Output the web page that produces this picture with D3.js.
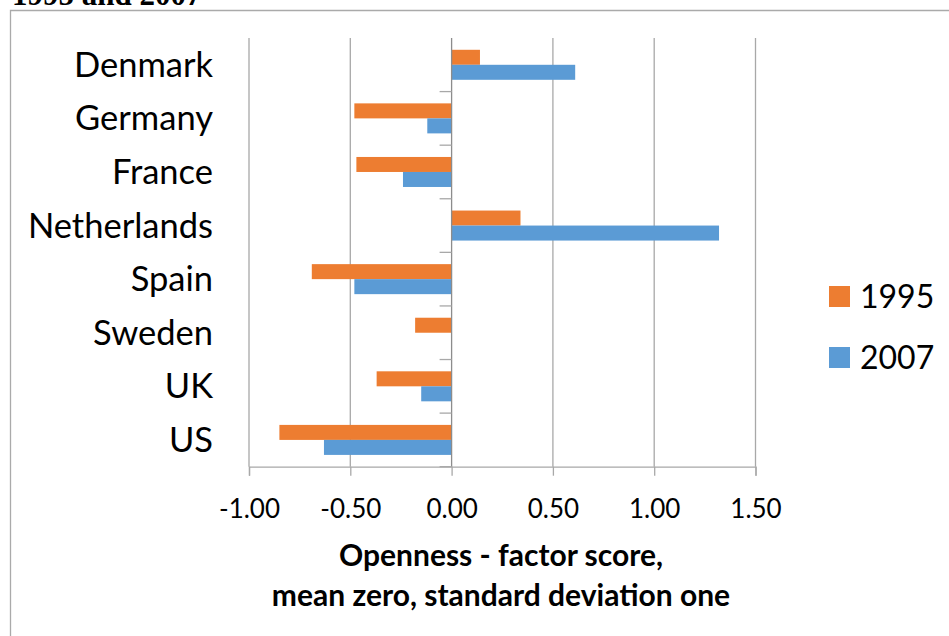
<!DOCTYPE html>
<html>
<head>
<meta charset="utf-8">
<script src="https://cdn.jsdelivr.net/npm/d3@7"></script>
<style>
  html, body { margin: 0; padding: 0; background: #fff; }
  svg { display: block; }
  text { font-family: Lato, "Open Sans", sans-serif; fill: #000; }
</style>
</head>
<body>
<svg id="chart" width="949" height="636"></svg>
<script>
// Openness factor scores by country, 1995 and 2007
const countries = ["Denmark", "Germany", "France", "Netherlands", "Spain", "Sweden", "UK", "US"];
const years = ["1995", "2007"];
const values1995 = [0.14, -0.48, -0.47, 0.34, -0.69, -0.18, -0.37, -0.85];
const values2007 = [0.61, -0.12, -0.24, 1.32, -0.48, null, -0.15, -0.63];
const xTicks = [-1.0, -0.5, 0.0, 0.5, 1.0, 1.5];
const colors = ["#ED7D31", "#5B9BD5"];
const axisTitle = ["Openness - factor score,", "mean zero, standard deviation one"];

const rows = countries.map((c, i) => ({
  country: c,
  vals: [
    { year: years[0], v: values1995[i] },
    { year: years[1], v: values2007[i] }
  ]
}));

const svg = d3.select("#chart");

// caption line above the frame (only its lower edge shows)
svg.append("text")
  .attr("x", 12).attr("y", 5)
  .style("font-family", "'Liberation Serif', 'DejaVu Serif', serif")
  .style("font-weight", "bold")
  .style("font-size", "31px")
  .text("1995 and 2007");

// chart frame
svg.append("path")
  .attr("d", "M10.5,640 V10.5 H960")
  .attr("fill", "none")
  .attr("stroke", "#aaaaaa")
  .attr("stroke-width", 1.3);

const x = d3.scaleLinear().domain([-1, 1.5]).range([249, 755.5]);
const y = d3.scaleBand().domain(countries).range([38, 466.7])
  .paddingInner(0.44).paddingOuter(0.22);
const yInner = d3.scaleBand().domain(years).range([0, y.bandwidth()]);
const color = d3.scaleOrdinal().domain(years).range(colors);

const plotTop = 38, plotBottom = 466.7;

// vertical gridlines
svg.append("g")
  .selectAll("line")
  .data(xTicks.filter(t => t !== 0))
  .join("line")
  .attr("x1", d => x(d)).attr("x2", d => x(d))
  .attr("y1", plotTop).attr("y2", plotBottom)
  .attr("stroke", "#a8a8a8")
  .attr("stroke-width", 1.3);

// bars
const groups = svg.append("g")
  .selectAll("g")
  .data(rows)
  .join("g")
  .attr("transform", d => `translate(0,${y(d.country)})`);

groups.selectAll("rect")
  .data(d => d.vals.filter(e => e.v !== null))
  .join("rect")
  .attr("x", d => x(Math.min(0, d.v)))
  .attr("width", d => Math.abs(x(d.v) - x(0)))
  .attr("y", d => yInner(d.year))
  .attr("height", yInner.bandwidth())
  .attr("fill", d => color(d.year));

// value axis along the bottom
const fmt = d3.format(".2f");
const xAxis = svg.append("g")
  .attr("transform", `translate(0,${plotBottom})`)
  .call(d3.axisBottom(x).tickValues(xTicks).tickSize(9)
    .tickFormat(d => fmt(d).replace("\u2212", "-")));
xAxis.select(".domain").attr("stroke", "#a8a8a8").attr("stroke-width", 1.3);
xAxis.selectAll(".tick line").attr("stroke", "#a8a8a8").attr("stroke-width", 1.3);
xAxis.selectAll(".tick text")
  .attr("dy", null)
  .attr("y", 51)
  .style("font-family", "Lato, 'Open Sans', sans-serif")
  .style("font-size", "26px");

// category axis at zero, tick marks between categories
const boundaries = countries.map(c => y(c) - y.step() * y.paddingInner() / 2).concat([plotBottom]);
const catAxis = svg.append("g");
catAxis.append("line")
  .attr("x1", x(0)).attr("x2", x(0))
  .attr("y1", plotTop).attr("y2", plotBottom)
  .attr("stroke", "#8c8c8c").attr("stroke-width", 1.3);
catAxis.selectAll("line.tick")
  .data(boundaries.slice(1))
  .join("line")
  .attr("class", "tick")
  .attr("x1", x(0) - 12).attr("x2", x(0))
  .attr("y1", d => d).attr("y2", d => d)
  .attr("stroke", "#a8a8a8").attr("stroke-width", 1.3);

// category labels
svg.append("g")
  .selectAll("text")
  .data(countries)
  .join("text")
  .attr("x", 213)
  .attr("y", d => y(d) + y.bandwidth() / 2 + 12)
  .attr("text-anchor", "end")
  .style("font-size", "34.5px")
  .text(d => d);

// axis title
svg.append("g")
  .selectAll("text")
  .data(axisTitle)
  .join("text")
  .attr("x", 501)
  .attr("y", (d, i) => 566 + i * 40)
  .attr("text-anchor", "middle")
  .style("font-weight", "bold")
  .style("font-size", "30px")
  .text(d => d);

// legend
const legend = svg.append("g")
  .selectAll("g")
  .data(years)
  .join("g")
  .attr("transform", (d, i) => `translate(829,${286 + i * 61})`);
legend.append("rect")
  .attr("width", 21).attr("height", 21)
  .attr("fill", d => color(d));
legend.append("text")
  .attr("x", 31).attr("y", 22)
  .style("font-size", "32px")
  .text(d => d);
</script>
</body>
</html>
